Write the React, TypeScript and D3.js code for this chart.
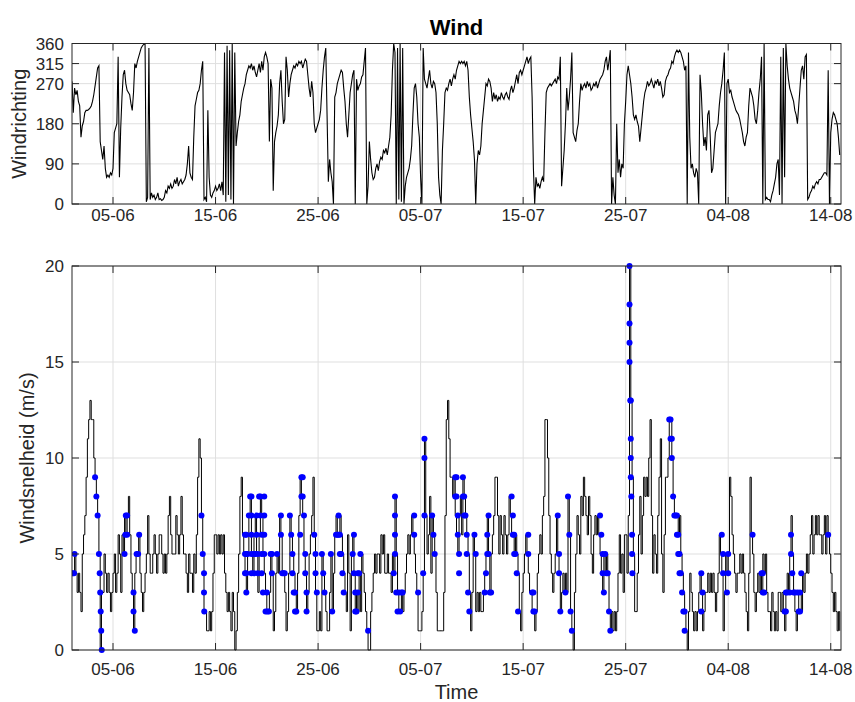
import React from "react";
import * as d3 from "d3";

// Observation period: three-hourly samples starting 1 June
const START = Date.UTC(2016, 5, 1);
const END = Date.UTC(2016, 7, 15);
const STEP_HOURS = 3;
const DAY_MS = 86400000;

const DATE_TICKS = ["05-06", "15-06", "25-06", "05-07", "15-07", "25-07", "04-08", "14-08"];
const DIR_TICKS = [0, 90, 180, 270, 315, 360];
const SPEED_TICKS = [0, 5, 10, 15, 20];

// Wind direction (degrees), one row per day, 8 samples per row
const WIND_DIR: number[][] = [
  [275, 205, 260, 245, 255, 230, 220, 150],
  [175, 185, 205, 210, 210, 212, 215, 220],
  [230, 245, 265, 285, 305, 310, 140, 120],
  [100, 130, 80, 60, 65, 60, 70, 65],
  [80, 160, 170, 180, 330, 60, 170, 240],
  [290, 300, 270, 255, 250, 245, 225, 210],
  [250, 315, 305, 320, 330, 340, 350, 355],
  [358, 360, 5, 15, 350, 10, 25, 15],
  [20, 10, 15, 25, 10, 12, 8, 10],
  [15, 30, 25, 40, 35, 45, 35, 40],
  [55, 45, 60, 40, 50, 55, 45, 50],
  [55, 65, 90, 130, 70, 60, 55, 150],
  [220, 235, 250, 255, 270, 300, 320, 10],
  [15, 5, 210, 60, 20, 15, 25, 30],
  [40, 30, 35, 45, 30, 50, 20, 340],
  [5, 355, 20, 345, 10, 360, 0, 340],
  [130, 160, 185, 200, 230, 245, 260, 270],
  [290, 300, 310, 305, 315, 300, 310, 295],
  [285, 300, 315, 295, 320, 300, 330, 340],
  [330, 315, 140, 280, 260, 30, 140, 160],
  [175, 200, 270, 300, 230, 180, 190, 330],
  [300, 240, 270, 290, 300, 310, 305, 315],
  [310, 320, 315, 320, 305, 315, 325, 320],
  [290, 260, 240, 275, 250, 180, 160, 170],
  [180, 190, 210, 260, 300, 330, 350, 200],
  [50, 100, 70, 50, 0, 240, 250, 270],
  [280, 290, 300, 295, 260, 230, 180, 150],
  [200, 250, 270, 290, 300, 0, 280, 255],
  [265, 270, 285, 290, 320, 350, 0, 40],
  [140, 100, 70, 55, 60, 80, 90, 75],
  [95, 105, 100, 120, 115, 125, 110, 130],
  [150, 200, 300, 360, 340, 0, 350, 10],
  [360, 5, 350, 0, 40, 60, 70, 80],
  [100, 130, 200, 260, 270, 240, 180, 150],
  [60, 0, 350, 280, 270, 260, 280, 300],
  [270, 260, 275, 270, 250, 180, 60, 20],
  [0, 120, 180, 250, 260, 255, 270, 280],
  [265, 280, 290, 280, 300, 310, 320, 315],
  [320, 315, 320, 310, 320, 300, 240, 200],
  [170, 140, 100, 0, 90, 120, 110, 130],
  [180, 210, 240, 270, 265, 280, 275, 260],
  [230, 250, 235, 245, 230, 240, 235, 250],
  [240, 235, 245, 250, 240, 235, 255, 265],
  [250, 260, 275, 290, 270, 295, 300, 290],
  [300, 310, 320, 330, 315, 325, 330, 240],
  [80, 0, 60, 40, 45, 35, 50, 60],
  [50, 160, 250, 260, 265, 270, 265, 270],
  [275, 280, 270, 285, 280, 330, 40, 80],
  [120, 180, 260, 210, 240, 280, 340, 160],
  [150, 140, 165, 180, 230, 270, 255, 265],
  [270, 260, 275, 265, 270, 255, 260, 270],
  [265, 275, 260, 270, 280, 285, 290, 300],
  [320, 330, 300, 320, 345, 0, 60, 20],
  [0, 180, 70, 100, 60, 90, 80, 180],
  [230, 290, 310, 290, 270, 240, 200, 190],
  [200, 185, 175, 140, 170, 200, 230, 250],
  [260, 275, 265, 270, 280, 270, 260, 275],
  [270, 280, 265, 275, 260, 240, 245, 275],
  [285, 290, 300, 305, 320, 315, 330, 340],
  [345, 340, 345, 340, 330, 320, 300, 310],
  [0, 340, 150, 80, 90, 70, 60, 80],
  [70, 0, 290, 250, 180, 130, 150, 120],
  [200, 210, 150, 70, 80, 120, 160, 170],
  [180, 220, 250, 270, 300, 340, 0, 270],
  [280, 250, 255, 240, 230, 220, 210, 205],
  [200, 190, 175, 160, 140, 130, 150, 160],
  [220, 260, 250, 240, 220, 190, 180, 210],
  [250, 280, 330, 0, 360, 10, 15, 10],
  [10, 5, 20, 30, 45, 60, 90, 100],
  [20, 330, 0, 350, 60, 360, 310, 280],
  [260, 250, 240, 230, 210, 200, 180, 220],
  [260, 300, 310, 280, 330, 335, 10, 15],
  [25, 30, 40, 35, 45, 50, 45, 55],
  [55, 60, 65, 70, 70, 65, 300, 0],
  [160, 190, 205, 200, 190, 180, 150, 110],
];

// Wind speed (m/s), one row per day, 8 samples per row
const WIND_SPEED: number[][] = [
  [4, 4, 5, 4, 3, 4, 3, 2],
  [5, 6, 7, 9, 11, 12, 13, 12],
  [12, 10, 9, 8, 7, 5, 0, 3],
  [3, 5, 4, 3, 4, 3, 2, 3],
  [4, 5, 3, 4, 6, 5, 3, 6],
  [5, 7, 6, 7, 8, 6, 4, 3],
  [1, 4, 5, 5, 6, 4, 3, 2],
  [3, 4, 5, 7, 5, 4, 4, 5],
  [6, 5, 4, 5, 6, 6, 5, 4],
  [5, 4, 5, 7, 8, 6, 5, 5],
  [5, 7, 6, 5, 6, 8, 6, 5],
  [5, 4, 3, 5, 4, 4, 3, 5],
  [4, 6, 9, 11, 10, 7, 5, 2],
  [2, 1, 1, 2, 1, 2, 4, 6],
  [6, 5, 6, 5, 6, 5, 6, 4],
  [3, 2, 3, 2, 1, 3, 2, 0],
  [1, 3, 5, 8, 9, 6, 5, 4],
  [3, 5, 7, 8, 5, 4, 6, 7],
  [5, 3, 6, 8, 7, 5, 4, 3],
  [2, 2, 3, 5, 4, 1, 2, 4],
  [5, 4, 7, 6, 4, 4, 3, 1],
  [2, 4, 7, 6, 5, 4, 3, 2],
  [4, 7, 9, 8, 7, 5, 4, 2],
  [3, 5, 6, 7, 9, 6, 3, 1],
  [1, 2, 1, 5, 4, 3, 2, 1],
  [1, 3, 5, 2, 4, 6, 7, 6],
  [6, 7, 6, 5, 4, 3, 2, 6],
  [4, 1, 5, 6, 4, 2, 3, 2],
  [4, 2, 5, 4, 3, 2, 1, 0],
  [0, 2, 3, 4, 5, 4, 5, 5],
  [4, 6, 5, 6, 4, 4, 5, 4],
  [4, 3, 5, 4, 8, 5, 3, 2],
  [2, 3, 2, 3, 4, 5, 6, 5],
  [6, 7, 6, 5, 4, 3, 1, 1],
  [1, 2, 4, 11, 7, 5, 6, 8],
  [4, 7, 6, 5, 3, 1, 1, 1],
  [1, 1, 3, 7, 12, 13, 11, 9],
  [9, 8, 9, 7, 6, 5, 7, 8],
  [6, 9, 8, 7, 6, 5, 3, 1],
  [3, 6, 5, 2, 3, 2, 3, 2],
  [2, 3, 4, 5, 7, 5, 3, 5],
  [6, 7, 9, 9, 7, 5, 7, 6],
  [5, 7, 6, 5, 6, 8, 7, 6],
  [6, 5, 6, 5, 4, 2, 1, 3],
  [4, 5, 6, 5, 4, 3, 3, 2],
  [2, 1, 2, 4, 5, 6, 5, 7],
  [8, 12, 12, 10, 7, 5, 4, 3],
  [4, 5, 7, 5, 4, 2, 3, 4],
  [3, 4, 3, 8, 6, 2, 1, 0],
  [3, 5, 7, 6, 5, 8, 7, 9],
  [8, 7, 6, 8, 7, 5, 4, 6],
  [7, 6, 7, 6, 5, 4, 3, 5],
  [4, 5, 4, 2, 1, 2, 1, 2],
  [1, 2, 4, 6, 4, 5, 3, 6],
  [6, 4, 7, 20, 13, 9, 5, 2],
  [2, 4, 6, 8, 5, 7, 9, 8],
  [9, 8, 10, 12, 7, 4, 6, 5],
  [4, 7, 9, 11, 5, 3, 6, 9],
  [9, 10, 12, 12, 10, 8, 7, 7],
  [7, 6, 7, 5, 4, 3, 2, 1],
  [0, 2, 4, 3, 2, 1, 2, 1],
  [2, 3, 4, 3, 1, 2, 3, 3],
  [4, 3, 4, 3, 4, 3, 2, 3],
  [4, 6, 5, 4, 1, 3, 5, 4],
  [5, 9, 8, 6, 5, 4, 3, 4],
  [4, 5, 4, 5, 4, 3, 2, 1],
  [4, 9, 6, 5, 3, 2, 3, 4],
  [3, 4, 3, 5, 4, 5, 3, 2],
  [2, 1, 3, 2, 1, 2, 1, 3],
  [3, 2, 3, 2, 1, 3, 4, 3],
  [5, 7, 5, 3, 2, 1, 2, 3],
  [3, 2, 4, 3, 4, 5, 4, 5],
  [6, 7, 5, 6, 7, 6, 7, 6],
  [6, 5, 6, 7, 5, 7, 6, 5],
  [4, 3, 2, 3, 2, 1, 2, 1],
];

// Highlighted speed observations: [days since start, m/s]
const MARKED: [number, number][] = [
  [0.05, 4], [0.2, 4], [0.25, 5],
  [2.25, 9], [2.375, 8], [2.5, 7], [2.625, 5], [2.7, 4], [2.75, 3], [2.8, 2], [2.85, 1], [2.9, 0],
  [5.125, 5], [5.2, 6], [5.25, 7], [5.375, 7], [5.375, 6],
  [6.0, 3], [6.0, 2], [6.125, 1], [6.3, 5], [6.45, 5], [6.55, 6],
  [12.625, 7], [12.75, 5], [12.875, 4], [12.875, 3], [12.9, 2],
  [16.875, 4], [16.875, 5], [16.875, 6], [17.0, 3], [17.0, 4], [17.0, 5], [17.0, 6], [17.125, 5],
  [17.25, 7], [17.375, 8], [17.5, 8], [17.5, 7], [17.5, 6], [17.5, 5], [17.5, 4],
  [17.75, 5], [17.75, 4], [17.875, 5], [18.0, 7], [18.0, 6], [18.125, 4], [18.125, 5],
  [18.25, 8], [18.375, 8], [18.375, 7], [18.5, 6], [18.5, 5], [18.5, 4], [18.625, 3],
  [18.75, 8], [18.75, 7], [18.75, 6], [18.75, 5], [18.875, 2], [19.0, 3], [19.05, 2], [19.2, 2],
  [19.375, 5], [19.5, 5], [19.5, 4],
  [20.0, 5], [20.375, 7], [20.375, 6], [20.5, 4], [20.625, 4], [20.75, 4],
  [21.25, 7], [21.375, 6], [21.5, 5], [21.5, 4], [21.625, 3], [21.75, 2], [21.75, 3], [21.875, 2],
  [22.25, 6], [22.375, 9], [22.5, 9], [22.375, 8], [22.5, 8], [22.625, 7], [22.75, 5], [22.75, 4],
  [22.875, 3], [22.875, 2],
  [23.625, 6], [23.75, 5], [23.75, 4], [23.875, 3],
  [24.375, 5], [24.5, 4], [24.625, 3],
  [25.25, 5], [25.375, 2],
  [25.75, 6], [25.875, 6], [26.0, 7], [26.0, 6], [26.125, 6], [26.125, 5], [26.25, 5], [26.375, 4], [26.5, 3],
  [27.375, 5], [27.5, 6], [27.5, 4], [27.625, 2], [27.625, 3], [27.75, 2], [27.875, 3], [27.875, 4],
  [28.0, 4], [28.125, 5], [28.875, 1],
  [31.375, 4], [31.5, 8], [31.5, 7], [31.5, 6], [31.5, 5], [31.625, 3], [31.75, 2], [31.875, 3],
  [32.0, 2], [32.125, 3], [32.25, 3],
  [33.375, 7], [33.375, 6], [33.75, 3],
  [34.375, 11], [34.375, 10], [34.375, 7], [34.25, 4],
  [35.125, 7], [35.25, 6], [35.375, 5],
  [37.375, 9], [37.375, 8], [37.5, 9], [37.5, 8], [37.625, 7], [37.625, 6], [37.75, 5], [37.75, 4],
  [38.125, 9], [38.125, 8], [38.25, 8], [38.25, 7], [38.375, 7], [38.5, 6], [38.5, 5], [38.625, 3], [38.75, 2],
  [39.25, 6], [39.375, 5],
  [40.25, 3], [40.375, 4], [40.5, 5], [40.5, 6], [40.625, 7], [40.625, 5], [40.75, 3], [40.875, 3],
  [42.875, 8], [43.0, 7], [43.0, 6], [43.125, 6], [43.125, 5], [43.25, 5], [43.375, 4], [43.5, 2],
  [44.5, 6], [44.5, 5], [44.875, 3], [45.0, 3], [45.0, 2], [45.125, 2],
  [47.375, 7], [47.5, 5], [47.5, 4], [47.625, 2], [48.125, 3], [48.375, 8], [48.5, 6], [48.625, 2], [48.75, 1],
  [51.5, 7], [51.625, 6], [51.75, 5], [51.75, 4], [51.875, 3], [52.0, 5], [52.125, 4], [52.25, 4],
  [52.375, 2], [52.5, 1],
  [54.375, 20], [54.375, 18], [54.375, 17], [54.375, 16], [54.375, 15], [54.5, 13], [54.45, 13],
  [54.5, 11], [54.5, 10], [54.5, 9], [54.55, 8], [54.625, 6], [54.625, 5], [54.65, 4],
  [58.25, 12], [58.375, 12], [58.375, 11], [58.5, 11], [58.5, 10], [58.625, 8], [58.75, 7], [58.875, 7],
  [59.0, 6], [59.0, 7], [59.125, 6], [59.125, 5], [59.25, 5], [59.25, 4], [59.375, 4], [59.5, 3],
  [59.625, 2], [59.75, 2], [59.75, 1],
  [61.375, 4], [61.5, 3], [61.375, 2],
  [63.375, 6], [63.5, 5], [63.5, 4], [63.875, 3], [64.0, 5], [64.0, 4],
  [66.375, 6],
  [67.25, 4], [67.375, 4], [67.5, 3], [67.375, 3],
  [69.5, 2], [69.625, 2], [69.625, 3], [69.75, 3], [70.0, 3], [70.125, 6], [70.125, 5], [70.25, 4],
  [70.375, 3], [70.5, 3], [70.75, 3], [70.875, 2], [71.0, 2], [71.0, 3], [71.125, 4],
  [73.75, 6],
];

const W = 855;
const H = 702;
const LEFT = 72;
const RIGHT = 841;
const TOP_PANEL = { top: 43.5, bottom: 204 };
const BOTTOM_PANEL = { top: 266, bottom: 650 };
const TICK_LEN = 7;
const FONT = "'Liberation Sans', Arial, Helvetica, sans-serif";
const AXIS_COLOR = "#262626";
const GRID_COLOR = "#dfdfdf";

type Sample = { t: Date; v: number };
type Panel = { top: number; bottom: number };

function toSeries(rows: number[][]): Sample[] {
  const out: Sample[] = [];
  rows.forEach((row, d) =>
    row.forEach((v, k) => {
      out.push({ t: new Date(START + d * DAY_MS + k * STEP_HOURS * 3600000), v });
    })
  );
  return out;
}

function parseTick(s: string) {
  const [dd, mm] = s.split("-").map(Number);
  return new Date(Date.UTC(2016, mm - 1, dd));
}

const dirSeries = toSeries(WIND_DIR);
const speedSeries = toSeries(WIND_SPEED);
const tickDates = DATE_TICKS.map(parseTick);

type AxisProps = {
  panel: Panel;
  y: d3.ScaleLinear<number, number>;
  yTicks: number[];
  x: d3.ScaleTime<number, number>;
  labelOffset: number;
};

function Grid({ panel, y, yTicks, x }: AxisProps) {
  return (
    <g>
      {tickDates.map((d, i) => (
        <line key={"gx" + i} x1={x(d)} x2={x(d)} y1={panel.top} y2={panel.bottom} stroke={GRID_COLOR} strokeWidth={1} />
      ))}
      {yTicks.map((v, i) => (
        <line key={"gy" + i} x1={LEFT} x2={RIGHT} y1={y(v)} y2={y(v)} stroke={GRID_COLOR} strokeWidth={1} />
      ))}
    </g>
  );
}

function Axes({ panel, y, yTicks, x, labelOffset }: AxisProps) {
  return (
    <g fontFamily={FONT} fill={AXIS_COLOR}>
      <rect x={LEFT} y={panel.top} width={RIGHT - LEFT} height={panel.bottom - panel.top} fill="none" stroke={AXIS_COLOR} strokeWidth={1} />
      {tickDates.map((d, i) => (
        <g key={"tx" + i}>
          <line x1={x(d)} x2={x(d)} y1={panel.bottom} y2={panel.bottom - TICK_LEN} stroke={AXIS_COLOR} />
          <line x1={x(d)} x2={x(d)} y1={panel.top} y2={panel.top + TICK_LEN} stroke={AXIS_COLOR} />
          <text x={x(d)} y={panel.bottom + labelOffset} textAnchor="middle" fontSize={17}>
            {DATE_TICKS[i]}
          </text>
        </g>
      ))}
      {yTicks.map((v, i) => (
        <g key={"ty" + i}>
          <line x1={LEFT} x2={LEFT + TICK_LEN} y1={y(v)} y2={y(v)} stroke={AXIS_COLOR} />
          <line x1={RIGHT} x2={RIGHT - TICK_LEN} y1={y(v)} y2={y(v)} stroke={AXIS_COLOR} />
          <text x={LEFT - 8} y={y(v)} dy="0.36em" textAnchor="end" fontSize={17}>
            {v}
          </text>
        </g>
      ))}
    </g>
  );
}

export default function App() {
  const x = d3.scaleUtc().domain([new Date(START), new Date(END)]).range([LEFT, RIGHT]);
  const yDir = d3.scaleLinear().domain([0, 360]).range([TOP_PANEL.bottom, TOP_PANEL.top]);
  const ySpeed = d3.scaleLinear().domain([0, 20]).range([BOTTOM_PANEL.bottom, BOTTOM_PANEL.top]);

  const dirLine = d3
    .line<Sample>()
    .x((d) => x(d.t))
    .y((d) => yDir(d.v));
  const speedLine = d3
    .line<Sample>()
    .x((d) => x(d.t))
    .y((d) => ySpeed(d.v))
    .curve(d3.curveStepAfter);

  return (
    <svg width={W} height={H} style={{ position: "absolute", left: 0, top: 0, background: "#fff" }}>
      <defs>
        <clipPath id="clipTop">
          <rect x={LEFT} y={TOP_PANEL.top} width={RIGHT - LEFT} height={TOP_PANEL.bottom - TOP_PANEL.top} />
        </clipPath>
        <clipPath id="clipBottom">
          <rect x={LEFT} y={BOTTOM_PANEL.top - 4} width={RIGHT - LEFT} height={BOTTOM_PANEL.bottom - BOTTOM_PANEL.top + 8} />
        </clipPath>
      </defs>
      <rect x={0} y={0} width={W} height={H} fill="#fff" />

      {/* Wind direction panel */}
      <Grid panel={TOP_PANEL} y={yDir} yTicks={DIR_TICKS} x={x} labelOffset={17} />
      <path d={dirLine(dirSeries) || ""} fill="none" stroke="#000" strokeWidth={1.1} clipPath="url(#clipTop)" />
      <Axes panel={TOP_PANEL} y={yDir} yTicks={DIR_TICKS} x={x} labelOffset={17} />
      <text x={(LEFT + RIGHT) / 2} y={35} textAnchor="middle" fontFamily={FONT} fontWeight="bold" fontSize={22} fill="#000">
        Wind
      </text>
      <text
        transform={`translate(26,${(TOP_PANEL.top + TOP_PANEL.bottom) / 2}) rotate(-90)`}
        textAnchor="middle"
        fontFamily={FONT}
        fontSize={20}
        fill={AXIS_COLOR}
      >
        Windrichting
      </text>

      {/* Wind speed panel */}
      <Grid panel={BOTTOM_PANEL} y={ySpeed} yTicks={SPEED_TICKS} x={x} labelOffset={25} />
      <g clipPath="url(#clipBottom)">
        <path d={speedLine(speedSeries) || ""} fill="none" stroke="#000" strokeWidth={1} />
        {MARKED.map(([day, v], i) => (
          <circle key={i} cx={x(new Date(START + day * DAY_MS))} cy={ySpeed(v)} r={3} fill="#0000ff" />
        ))}
      </g>
      <Axes panel={BOTTOM_PANEL} y={ySpeed} yTicks={SPEED_TICKS} x={x} labelOffset={25} />
      <text
        transform={`translate(34,${(BOTTOM_PANEL.top + BOTTOM_PANEL.bottom) / 2}) rotate(-90)`}
        textAnchor="middle"
        fontFamily={FONT}
        fontSize={20}
        fill={AXIS_COLOR}
      >
        Windsnelheid (m/s)
      </text>
      <text x={(LEFT + RIGHT) / 2} y={699} textAnchor="middle" fontFamily={FONT} fontSize={20} fill={AXIS_COLOR}>
        Time
      </text>
    </svg>
  );
}
